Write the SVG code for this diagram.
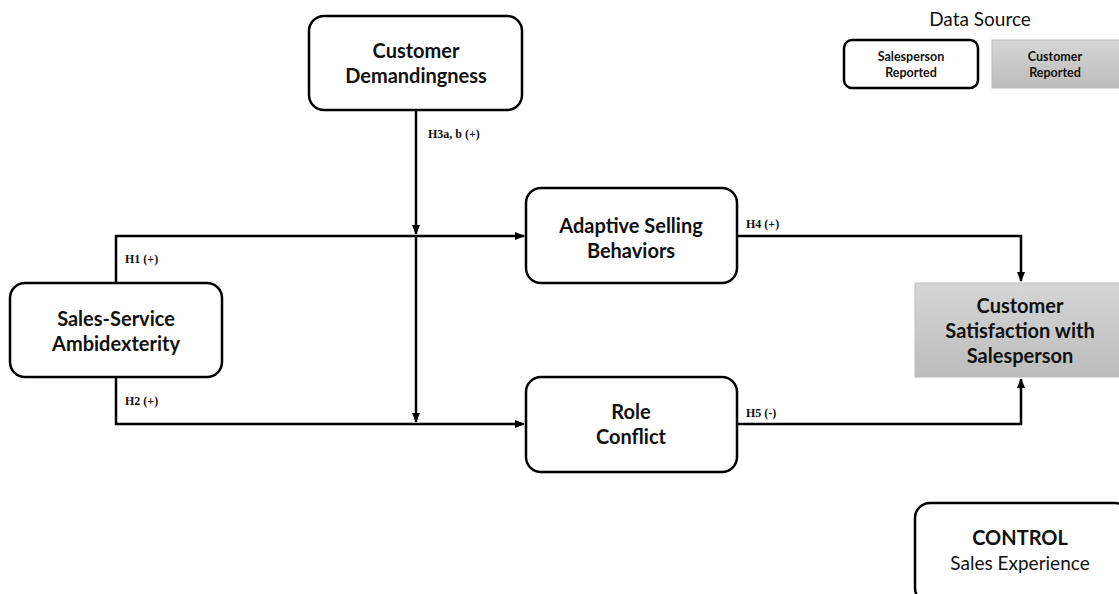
<svg xmlns="http://www.w3.org/2000/svg" width="1119" height="594" viewBox="0 0 1119 594">
<style>
.box{fill:#fff;stroke:#000;stroke-width:2.5}
.gray{fill:url(#g);stroke:#bbb;stroke-width:1}
.t{font-family:Lato,"Open Sans",sans-serif;font-weight:bold;font-size:20px;fill:#111;text-anchor:middle}
.s{font-family:Lato,"Open Sans",sans-serif;font-weight:bold;font-size:12.5px;fill:#111;text-anchor:middle}
.r{font-family:Lato,"Open Sans",sans-serif;font-size:19px;fill:#111;text-anchor:middle}
.lab{font-family:"Liberation Serif",serif;font-weight:bold;font-size:12px;fill:#111}
.c{fill:none;stroke:#000;stroke-width:2.5}
</style>
<defs>
<linearGradient id="g" x1="0" y1="0" x2="0" y2="1">
<stop offset="0" stop-color="#d6d6d6"/>
<stop offset="1" stop-color="#bcbcbc"/>
</linearGradient>
<marker id="a" markerUnits="userSpaceOnUse" markerWidth="10" markerHeight="10" viewBox="0 0 10 10" refX="9" refY="5" orient="auto">
<path d="M0,1 L10,5 L0,9 Z" fill="#000"/>
</marker>
</defs>
<g id="connectors">
<path class="c" d="M116,283 V236 H524" marker-end="url(#a)"/>
<path class="c" d="M116,377 V424 H524" marker-end="url(#a)"/>
<path class="c" d="M416,110 V234" marker-end="url(#a)"/>
<path class="c" d="M416,236 V422" marker-end="url(#a)"/>
<path class="c" d="M737,236 H1021 V281" marker-end="url(#a)"/>
<path class="c" d="M737,424 H1021 V379" marker-end="url(#a)"/>
<text class="lab" x="428" y="138">H3a, b (+)</text>
<text class="lab" x="125" y="263">H1 (+)</text>
<text class="lab" x="125" y="405">H2 (+)</text>
<text class="lab" x="746" y="228">H4 (+)</text>
<text class="lab" x="746" y="417">H5 (-)</text>
</g>
<g id="legend">
<text class="r" x="980" y="26">Data Source</text>
<rect class="box" x="844" y="40" width="134" height="48" rx="8"/>
<text class="s" x="911" y="61">Salesperson</text>
<text class="s" x="911" y="77">Reported</text>
<rect class="gray" x="992" y="40" width="130" height="48"/>
<text class="s" x="1055" y="61">Customer</text>
<text class="s" x="1055" y="77">Reported</text>
</g>
<g id="customer-demandingness">
<rect class="box" x="309" y="16" width="213" height="94" rx="15"/>
<text class="t" x="416" y="58">Customer</text>
<text class="t" x="416" y="83">Demandingness</text>
</g>
<g id="sales-service-ambidexterity">
<rect class="box" x="10" y="283" width="212" height="94" rx="15"/>
<text class="t" x="116" y="326">Sales-Service</text>
<text class="t" x="116" y="351">Ambidexterity</text>
</g>
<g id="adaptive-selling">
<rect class="box" x="526" y="188" width="211" height="95" rx="15"/>
<text class="t" x="631" y="233">Adaptive Selling</text>
<text class="t" x="631" y="258">Behaviors</text>
</g>
<g id="role-conflict">
<rect class="box" x="526" y="377" width="211" height="95" rx="15"/>
<text class="t" x="631" y="419">Role</text>
<text class="t" x="631" y="444">Conflict</text>
</g>
<g id="customer-satisfaction">
<rect class="gray" x="915" y="283" width="210" height="94"/>
<text class="t" x="1020" y="313">Customer</text>
<text class="t" x="1020" y="338">Satisfaction with</text>
<text class="t" x="1020" y="363">Salesperson</text>
</g>
<g id="control">
<rect class="box" x="915" y="503" width="215" height="100" rx="15"/>
<text class="t" x="1020" y="545">CONTROL</text>
<text class="r" x="1020" y="570">Sales Experience</text>
</g>
</svg>
